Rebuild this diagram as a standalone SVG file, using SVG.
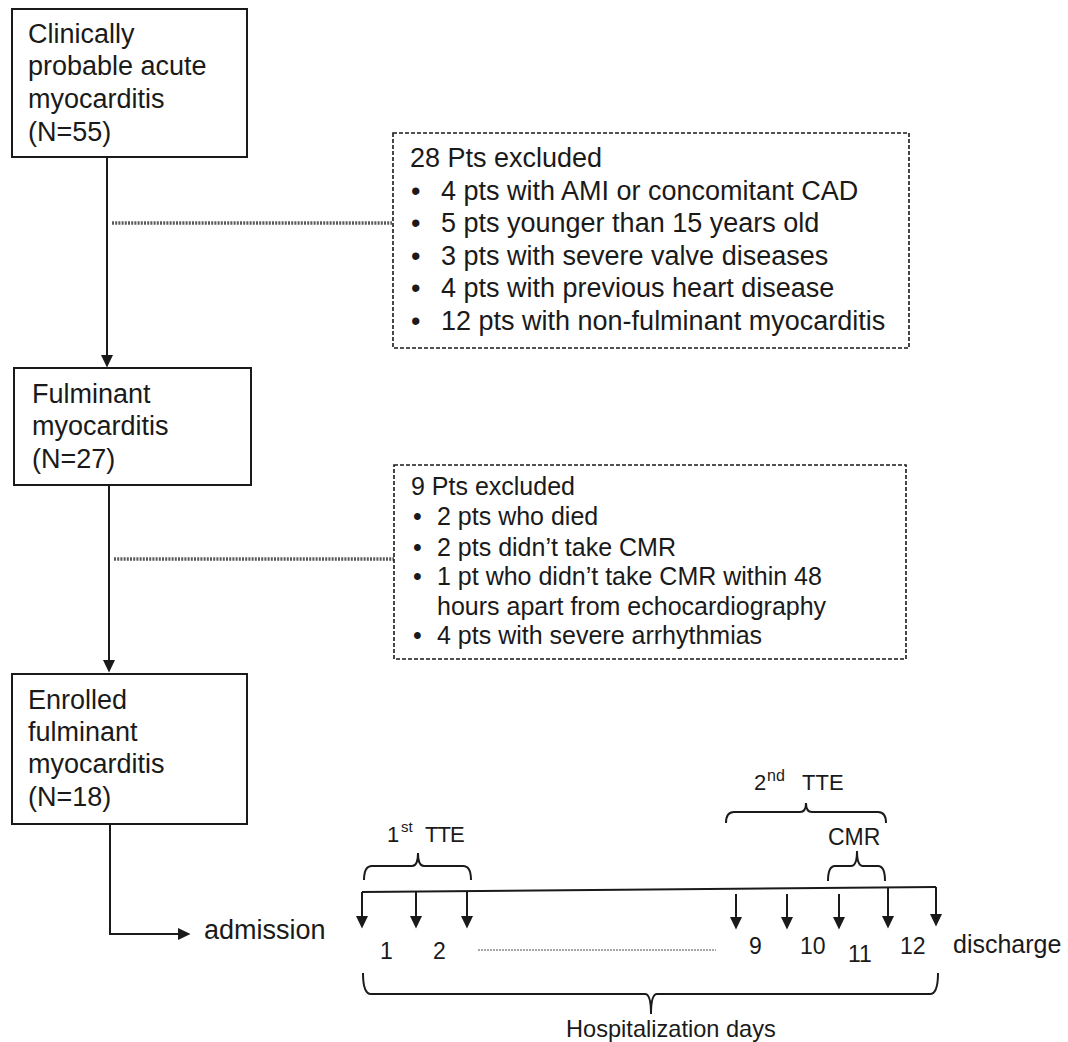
<svg xmlns="http://www.w3.org/2000/svg" width="1068" height="1042" viewBox="0 0 1068 1042">
<style>
text{font-family:"Liberation Sans",Arial,sans-serif;fill:#1a1a1a}
.n{font-size:27px}
.e1{font-size:27px}
.e2{font-size:25px}
.t{font-size:23px}
.box{fill:#fff;stroke:#1a1a1a;stroke-width:2}
.dbox{fill:#fff;stroke:#1a1a1a;stroke-width:1.6;stroke-dasharray:4 2}
.ln{fill:none;stroke:#1a1a1a;stroke-width:2}
.dot{fill:none;stroke:#5a5a5a;stroke-width:3.5;stroke-dasharray:2 1.2}
.thin{fill:none;stroke:#8a8a8a;stroke-width:1.6;stroke-dasharray:2 1}
.arr{fill:none;stroke:#1a1a1a;stroke-width:2;marker-end:url(#ah)}
</style>
<defs>
<marker id="ah" markerUnits="userSpaceOnUse" markerWidth="13" markerHeight="13" refX="10" refY="6" orient="auto">
<path d="M0,0 L12.5,6 L0,12 z" fill="#1a1a1a"/>
</marker>
</defs>
<rect width="1068" height="1042" fill="#fff"/>

<g id="connectors">
<line class="arr" x1="107" y1="157" x2="107" y2="365"/>
<line class="arr" x1="109" y1="485" x2="109" y2="670"/>
<path class="arr" d="M110 824 V934 H188"/>
<line class="dot" x1="112" y1="223" x2="392" y2="223"/>
<line class="dot" x1="114" y1="559" x2="394" y2="559"/>
</g>

<g id="n1">
<rect class="box" x="12" y="9" width="235" height="148"/>
<text class="n" x="28" y="43">Clinically</text>
<text class="n" x="28" y="75">probable acute</text>
<text class="n" x="28" y="108">myocarditis</text>
<text class="n" x="28" y="141">(N=55)</text>
</g>

<g id="ex1">
<rect class="dbox" x="393" y="133" width="516" height="215"/>
<text class="e1" x="410" y="167">28 Pts excluded</text>
<text class="e1" x="411" y="199.5">•</text><text class="e1" x="441" y="199.5">4 pts with AMI or concomitant CAD</text>
<text class="e1" x="411" y="232">•</text><text class="e1" x="441" y="232">5 pts younger than 15 years old</text>
<text class="e1" x="411" y="264.5">•</text><text class="e1" x="441" y="264.5">3 pts with severe valve diseases</text>
<text class="e1" x="411" y="297">•</text><text class="e1" x="441" y="297">4 pts with previous heart disease</text>
<text class="e1" x="411" y="329.5">•</text><text class="e1" x="441" y="329.5">12 pts with non-fulminant myocarditis</text>
</g>

<g id="n2">
<rect class="box" x="14" y="368" width="237" height="117"/>
<text class="n" x="32" y="403">Fulminant</text>
<text class="n" x="32" y="435">myocarditis</text>
<text class="n" x="32" y="468">(N=27)</text>
</g>

<g id="ex2">
<rect class="dbox" x="394" y="465" width="512" height="194"/>
<text class="e2" x="411" y="495">9 Pts excluded</text>
<text class="e2" x="413" y="525">•</text><text class="e2" x="437" y="525">2 pts who died</text>
<text class="e2" x="413" y="556">•</text><text class="e2" x="437" y="556">2 pts didn’t take CMR</text>
<text class="e2" x="413" y="585">•</text><text class="e2" x="437" y="585">1 pt who didn’t take CMR within 48</text>
<text class="e2" x="437" y="615">hours apart from echocardiography</text>
<text class="e2" x="413" y="644">•</text><text class="e2" x="437" y="644">4 pts with severe arrhythmias</text>
</g>

<g id="n3">
<rect class="box" x="12" y="674" width="235" height="150"/>
<text class="n" x="28" y="709">Enrolled</text>
<text class="n" x="28" y="741">fulminant</text>
<text class="n" x="28" y="773">myocarditis</text>
<text class="n" x="28" y="806">(N=18)</text>
</g>

<g id="timeline">
<text class="n" x="204" y="939">admission</text>
<path class="ln" d="M362 892 L936 887"/>
<line class="arr" x1="362" y1="892" x2="362" y2="926"/>
<line class="arr" x1="416" y1="892" x2="416" y2="926"/>
<line class="arr" x1="467" y1="891" x2="467" y2="926"/>
<line class="arr" x1="736" y1="894" x2="736" y2="927"/>
<line class="arr" x1="787" y1="894" x2="787" y2="927"/>
<line class="arr" x1="839" y1="894" x2="839" y2="927"/>
<line class="arr" x1="888" y1="887" x2="888" y2="926"/>
<line class="arr" x1="936" y1="887" x2="936" y2="924"/>
<path class="ln" d="M364 880 Q364 866 372 866 H412 Q418 866 418 853 Q418 866 424 866 H463 Q471 866 471 880"/>
<text x="387" y="842" style="font-size:22px">1</text>
<text x="401" y="832" style="font-size:15px">st</text>
<text x="425" y="842" style="font-size:22px;letter-spacing:-1px">TTE</text>
<path class="ln" d="M726 823 Q726 812 734 812 H800 Q806 812 806 803 Q806 812 812 812 H878 Q886 812 886 823"/>
<text x="754" y="790" style="font-size:22px">2</text>
<text x="767" y="781" style="font-size:16px">nd</text>
<text x="802" y="790" style="font-size:22px">TTE</text>
<path class="ln" d="M828 881 Q828 866 835 866 H851 Q857 866 857 851 Q857 866 863 866 H878 Q885 866 885 881"/>
<text x="828" y="845" style="font-size:23px">CMR</text>
<text class="t" x="380" y="959">1</text>
<text class="t" x="433" y="959">2</text>
<line class="thin" x1="478" y1="950" x2="716" y2="950"/>
<text class="t" x="749" y="954">9</text>
<text class="t" x="800" y="954">10</text>
<text class="t" x="848" y="962">11</text>
<text class="t" x="900" y="954">12</text>
<text x="953" y="953" style="font-size:25px">discharge</text>
<path class="ln" d="M363 973 Q363 994 371 994 H645 Q651 994 651 1014 Q651 994 657 994 H930 Q938 994 938 973"/>
<text x="566" y="1037" style="font-size:23.6px">Hospitalization days</text>
</g>
</svg>
